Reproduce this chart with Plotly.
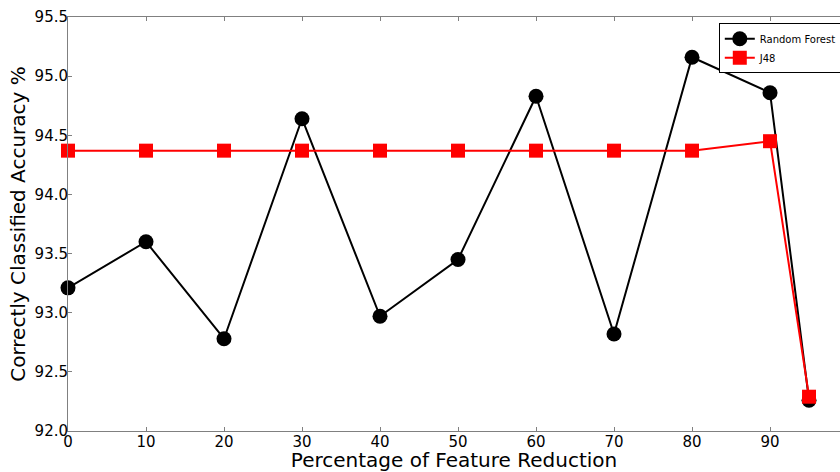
import plotly.graph_objects as go

reduction = [0, 10, 20, 30, 40, 50, 60, 70, 80, 90, 95]
random_forest = [93.21, 93.60, 92.78, 94.64, 92.97, 93.45, 94.83, 92.82, 95.16, 94.86, 92.26]
j48 = [94.37, 94.37, 94.37, 94.37, 94.37, 94.37, 94.37, 94.37, 94.37, 94.45, 92.29]

x_ticks = [0, 10, 20, 30, 40, 50, 60, 70, 80, 90]
y_ticks = [92.0, 92.5, 93.0, 93.5, 94.0, 94.5, 95.0, 95.5]

font = "DejaVu Sans"

fig = go.Figure()
fig.add_trace(go.Scatter(
    x=reduction, y=random_forest, name="Random Forest",
    mode="lines+markers",
    line=dict(color="black", width=2),
    marker=dict(symbol="circle", size=15, color="black"),
    cliponaxis=False,
))
fig.add_trace(go.Scatter(
    x=reduction, y=j48, name="J48",
    mode="lines+markers",
    line=dict(color="#ff0000", width=2),
    marker=dict(symbol="square", size=14, color="#ff0000"),
    cliponaxis=False,
))

axis_common = dict(
    showgrid=False, zeroline=False,
    showline=True, linecolor="#808080", linewidth=1,
    ticks="inside", ticklen=4, tickcolor="#808080",
    tickfont=dict(family=font, size=15, color="black"),
)

fig.update_layout(
    width=840, height=472,
    margin=dict(l=68, r=0, t=17, b=41, autoexpand=False),
    paper_bgcolor="white", plot_bgcolor="white",
    font=dict(family=font, color="black"),
    showlegend=True,
    legend=dict(
        x=0.843, y=0.985, xanchor="left", yanchor="top",
        bgcolor="white", bordercolor="black", borderwidth=1,
        font=dict(family=font, size=10, color="black"),
        itemwidth=30, tracegroupgap=0,
    ),
    xaxis=dict(
        range=[0, 98.97], tickvals=x_ticks, mirror="ticks",
        ticklabelstandoff=-3,
        title=dict(text="Percentage of Feature Reduction",
                   font=dict(family=font, size=20), standoff=2),
        **axis_common,
    ),
    yaxis=dict(
        range=[92.0, 95.5], tickvals=y_ticks, tickformat=".1f",
        ticklabelstandoff=-4,
        title=dict(text="Correctly Classified Accuracy %",
                   font=dict(family=font, size=20), standoff=3),
        **axis_common,
    ),
)

fig.write_html("out.html")
